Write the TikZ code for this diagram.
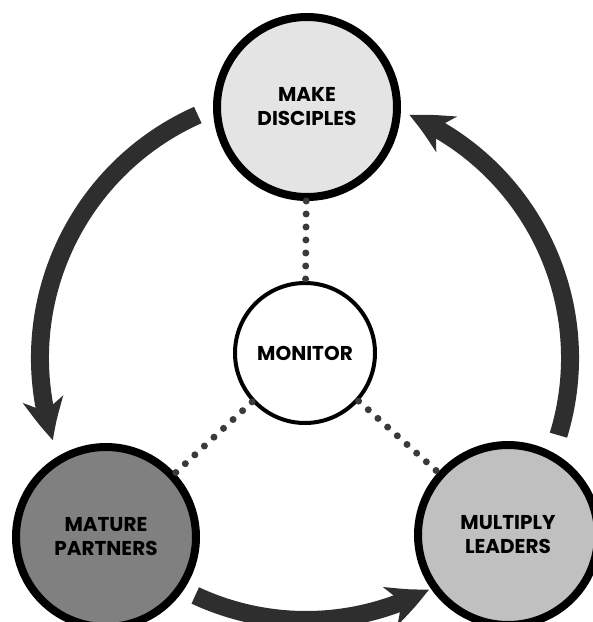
\documentclass[tikz,border=0pt]{standalone}
\usepackage{fontspec}
\setmainfont{Poppins}
\usetikzlibrary{arrows.meta, bending}

\definecolor{arrowgray}{HTML}{2E2E2E}
\definecolor{dotgray}{HTML}{3A3A3A}
\definecolor{lightfill}{HTML}{E4E4E4}
\definecolor{midfill}{HTML}{808080}
\definecolor{palefill}{HTML}{C0C0C0}

\begin{document}
\begin{tikzpicture}[
    x=1pt, y=-1pt,
    stage/.style={circle, draw, line width=8pt, minimum size=180pt, inner sep=0pt,
        align=center, font=\bfseries\fontsize{20}{24}\selectfont},
    hub/.style={circle, draw, line width=4pt, fill=white, minimum size=140pt, inner sep=0pt,
        align=center, font=\bfseries\fontsize{20}{24}\selectfont},
    cycle/.style={draw=arrowgray, line width=18pt,
        -{Stealth[length=42pt, width=40pt, inset=12pt, bend]}},
    link/.style={draw=dotgray, line width=7pt, line cap=round, dash pattern=on 0pt off 13pt}
]
\useasboundingbox (0,0) rectangle (593,622);

% Nodes
\node[hub] (monitor) at (305,353) {MONITOR};
\node[stage, fill=lightfill] (make) at (307,107) {MAKE\\DISCIPLES};
\node[stage, fill=midfill] (mature) at (106,537) {MATURE\\PARTNERS};
\node[stage, fill=palefill] (multiply) at (508,535) {MULTIPLY\\LEADERS};
\coordinate (ring) at (306,358);

% Dotted links
\draw[link] (make) -- (monitor);
\draw[link] (monitor) -- (mature);
\draw[link] (monitor) -- (multiply);

% Cycle arrows
\draw[cycle] ([shift={(246:266)}]ring) arc[start angle=246, end angle=162, radius=266];
\draw[cycle] ([shift={(115:262)}]ring) arc[start angle=115, end angle=62, radius=262];
\draw[cycle] ([shift={(17:264)}]ring) arc[start angle=17, end angle=-67, radius=264];

\end{tikzpicture}
\end{document}
